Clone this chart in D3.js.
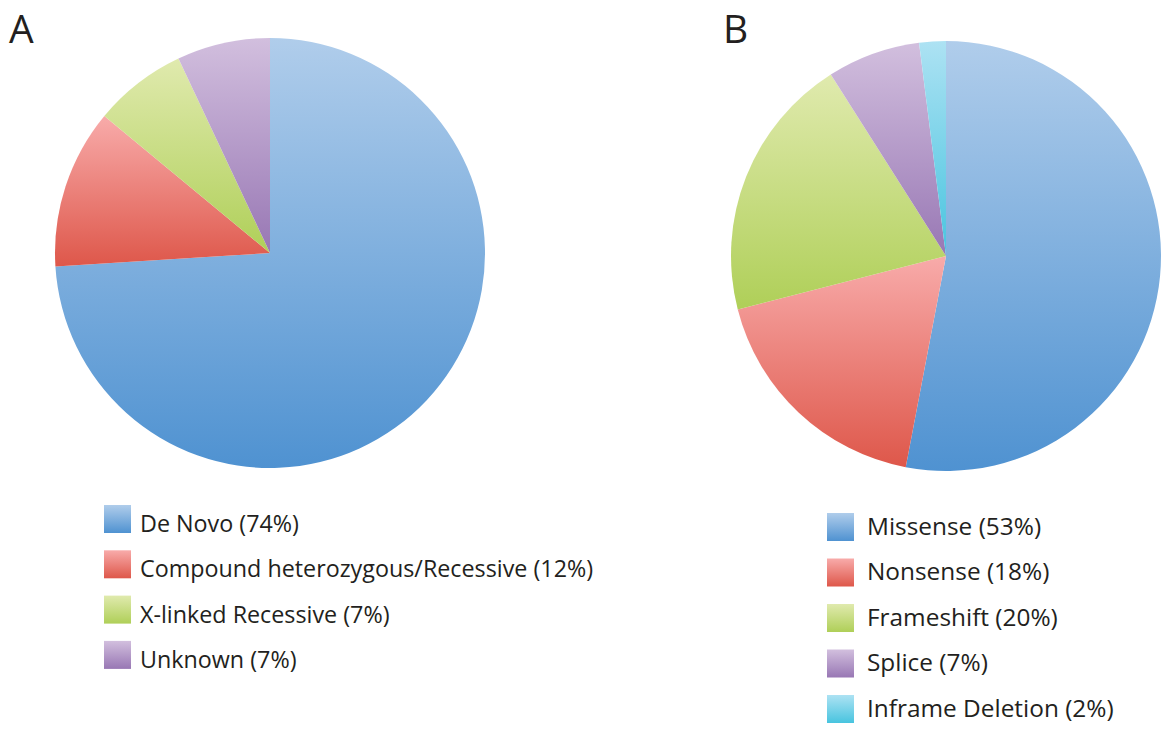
<!DOCTYPE html>
<html>
<head>
<meta charset="utf-8">
<script src="https://cdn.jsdelivr.net/npm/d3@7"></script>
<style>
  html, body { margin: 0; padding: 0; background: #fff; }
  svg { display: block; }
  text { font-family: "Open Sans", "Noto Sans", sans-serif; fill: #231f20; }
</style>
</head>
<body>
<svg id="chart" width="1161" height="730"></svg>
<script>
// Panel A: inheritance pattern
const inheritanceLabels = ["De Novo", "Compound heterozygous/Recessive", "X-linked Recessive", "Unknown"];
const inheritanceValues = [74, 12, 7, 7];
const inheritanceColors = ["blue", "red", "green", "purple"];

// Panel B: variant type
const variantLabels = ["Missense", "Nonsense", "Frameshift", "Splice", "Inframe Deletion"];
const variantValues = [53, 18, 20, 7, 2];
const variantColors = ["blue", "red", "green", "purple", "cyan"];

// light (top) → dark (bottom) gradient per colour family
const palette = {
  blue:   ["#b0cdeb", "#4f92d1"],
  red:    ["#f8abaa", "#de574a"],
  green:  ["#e0eaae", "#afcf58"],
  purple: ["#d2bfde", "#9877b4"],
  cyan:   ["#ade2f3", "#48c4df"]
};

const svg = d3.select("#chart");
const defs = svg.append("defs");
Object.entries(palette).forEach(([name, [c0, c1]]) => {
  const g = defs.append("linearGradient")
    .attr("id", "grad-" + name)
    .attr("x1", 0).attr("y1", 0).attr("x2", 0).attr("y2", 1);
  g.append("stop").attr("offset", "0%").attr("stop-color", c0);
  g.append("stop").attr("offset", "100%").attr("stop-color", c1);
});

function drawPanel(opts) {
  const { letter, letterX, cx, cy, r, labels, values, colors,
          legendX, legendY, legendStep, textDx, textDy, fontSize } = opts;

  svg.append("text")
    .attr("x", letterX).attr("y", 43)
    .style("font-size", "39px")
    .text(letter);

  const pie = d3.pie().sort(null).value(d => d.value)
    .startAngle(0).endAngle(2 * Math.PI);
  const arc = d3.arc().innerRadius(0).outerRadius(r);
  const data = labels.map((l, i) => ({ label: l, value: values[i], color: colors[i] }));

  const g = svg.append("g").attr("transform", `translate(${cx},${cy})`);
  g.selectAll("path")
    .data(pie(data))
    .join("path")
    .attr("d", arc)
    .attr("fill", d => `url(#grad-${d.data.color})`);

  const lg = svg.append("g").attr("transform", `translate(${legendX},${legendY})`);
  const rows = lg.selectAll("g")
    .data(data)
    .join("g")
    .attr("transform", (d, i) => `translate(0,${i * legendStep})`);
  rows.append("rect")
    .attr("width", 27).attr("height", 28)
    .attr("fill", d => `url(#grad-${d.color})`);
  rows.append("text")
    .attr("x", textDx).attr("y", textDy)
    .style("font-size", fontSize + "px")
    .text(d => `${d.label} (${d.value}%)`);
}

drawPanel({
  letter: "A", letterX: 9, cx: 270, cy: 253, r: 215,
  labels: inheritanceLabels, values: inheritanceValues, colors: inheritanceColors,
  legendX: 104, legendY: 505, legendStep: 45.3, textDx: 36, textDy: 27, fontSize: 23.3
});

drawPanel({
  letter: "B", letterX: 723, cx: 946, cy: 256, r: 215,
  labels: variantLabels, values: variantValues, colors: variantColors,
  legendX: 827, legendY: 513, legendStep: 45.5, textDx: 40, textDy: 21.5, fontSize: 24.4
});
</script>
</body>
</html>
